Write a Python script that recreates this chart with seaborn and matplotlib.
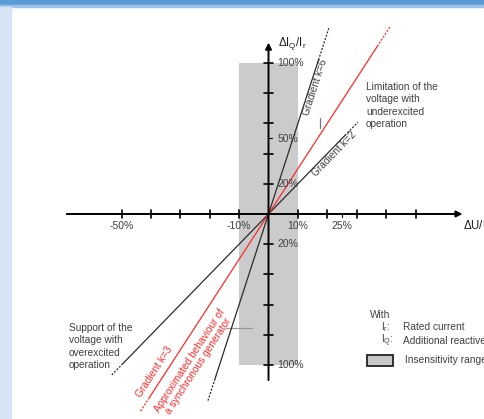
import seaborn as sns
import matplotlib.pyplot as plt
import matplotlib.patches as mpatches
import numpy as np
import pandas as pd

sns.set_theme(style="white")
plt.rcParams['font.family'] = ['Liberation Sans', 'DejaVu Sans']
plt.rcParams['mathtext.fontset'] = 'custom'
plt.rcParams['mathtext.rm'] = 'Liberation Sans'

# Данные: наклоны характеристик k (ΔIq/Ir = k * ΔU/Ur, в %)
gradients = [2, 3, 6]
line_colors = ['#2b2b2b', '#ff2a2a', '#2b2b2b']
# границы по ΔU (%): сплошная часть и пунктирное продолжение
solid_lo = [-49.5, -40.5, -18.3]
solid_hi = [26.0, 37.0, 17.0]
dash_lo = [-53.3, -43.5, -20.6]
dash_hi = [30.4, 41.5, 20.5]

x_ticks = [-50, -40, -30, -20, -10, 10, 20, 30, 40, 50]
x_minor = [25]
x_tick_labels = {-50: '-50%', -10: '-10%', 10: '10%', 25: '25%'}
y_ticks = [-100, -80, -60, -40, -20, 20, 40, 60, 80, 100]
y_minor = [50]
y_tick_labels = {100: '100%', 50: '50%', 20: '20%', -20: '20%', -100: '100%'}

band_u = [-10, 10]      # зона нечувствительности по ΔU
band_i = [-100, 100]    # по ΔIq

TXT = '#404040'
FS = 7.3

fig = plt.figure(figsize=(4.84, 4.19), dpi=100)
ax = fig.add_axes([0, 0, 1, 1])
# 1 % ΔU = 2.94 px, 1 % ΔI = 1.51 px, начало координат в (268.5, 214) px
ax.set_xlim(-268.5 / 2.94, (484 - 268.5) / 2.94)
ax.set_ylim(-(419 - 214) / 1.51, 214 / 1.51)
ax.axis('off')

# рамка страницы (синяя полоса сверху и слева)
ax.add_patch(mpatches.Rectangle((0, 1 - 5 / 419), 1, 5 / 419, transform=ax.transAxes,
                                color='#5b9bd5', clip_on=False, zorder=0))
ax.add_patch(mpatches.Rectangle((0, 1 - 7 / 419), 1, 2 / 419, transform=ax.transAxes,
                                color='#9dc3e6', clip_on=False, zorder=0))
ax.add_patch(mpatches.Rectangle((0, 0), 10.7 / 484, 1 - 7 / 419, transform=ax.transAxes,
                                color='#d6e4f3', clip_on=False, zorder=0))

# зона нечувствительности
ax.add_patch(mpatches.Rectangle((band_u[0], band_i[0]), band_u[1] - band_u[0],
                                band_i[1] - band_i[0], color='#cbcbcb', lw=0, zorder=1))

# характеристики
rows = []
for k, c, slo, shi, dlo, dhi in zip(gradients, line_colors, solid_lo, solid_hi, dash_lo, dash_hi):
    for seg, (a, b), style in [('s', (slo, shi), 'solid'),
                               ('dl', (dlo, slo), 'dash'),
                               ('dh', (shi, dhi), 'dash')]:
        for xv in (a, b):
            rows.append(dict(k=k, seg=f'{k}{seg}', style=style, color=c, u=xv, i=k * xv))
lines = pd.DataFrame(rows)

for seg, d in lines.groupby('seg'):
    ls = '-' if d['style'].iloc[0] == 'solid' else (0, (1.6, 1.2))
    sns.lineplot(data=d, x='u', y='i', color=d['color'].iloc[0], lw=0.9,
                 linestyle=ls, sort=False, estimator=None, ax=ax, zorder=3)

# оси со стрелками
arrow = dict(arrowstyle='-|>', color='black', lw=1.4, mutation_scale=9, shrinkA=0, shrinkB=0)
ax.annotate('', xy=(66.0, 0), xytext=(-68.6, 0), arrowprops=arrow, zorder=4)
ax.annotate('', xy=(0, 113.5), xytext=(0, -110), arrowprops=arrow, zorder=4)

for t in x_ticks:
    ax.plot([t, t], [-2.7, 2.7], color='black', lw=1.2, zorder=4)
for t in x_minor:
    ax.plot([t, t], [0, -2.3], color='black', lw=0.8, zorder=4)
for t in y_ticks:
    ax.plot([-1.7, 1.7], [t, t], color='black', lw=1.2, zorder=4)
for t in y_minor:
    ax.plot([0, 1.3], [t, t], color='black', lw=0.8, zorder=4)

for t, lab in x_tick_labels.items():
    ax.text(t, -8, lab, ha='center', va='center', fontsize=7.5, color=TXT)
for t, lab in y_tick_labels.items():
    ax.text(3.0, t, lab, ha='left', va='center', fontsize=7.5, color=TXT)

ax.text(3.2, 112.6, r'$\mathrm{\Delta I_Q/I_r}$', ha='left', va='center', fontsize=8.3, color='#1a1a1a')
ax.text(66.2, -8, r'$\mathrm{\Delta U/U_r}$', ha='left', va='center', fontsize=8.3, color='#1a1a1a')

# подписи наклонов
ax.text(16.0, 84.1, 'Gradient k=6', rotation=np.degrees(np.arctan(6)), transform_rotates_text=True,
        rotation_mode='anchor', ha='center', va='center', fontsize=FS, color=TXT)
ax.text(22.3, 39.6, 'Gradient k=2', rotation=np.degrees(np.arctan(2)), transform_rotates_text=True,
        rotation_mode='anchor', ha='center', va='center', fontsize=FS, color=TXT)
ax.text(-38.8, -104.3, 'Gradient k=3', rotation=np.degrees(np.arctan(3)), transform_rotates_text=True,
        rotation_mode='anchor', ha='center', va='center', fontsize=FS, color='#ff2a2a')
ax.text(-25.4, -98.9, 'Approximated behaviour of\na synchronous generator',
        rotation=np.degrees(np.arctan(3)), transform_rotates_text=True, rotation_mode='anchor',
        ha='center', va='center', multialignment='center', fontsize=FS, color='#ff2a2a',
        linespacing=1.1)

# мелкие отметки
ax.plot([17.5, 17.5], [57, 63.6], color='#777777', lw=0.9, zorder=3)
ax.plot([-14.5, -5.6], [-75.5, -75.5], color='#999999', lw=0.9, zorder=2)

ax.text(33.2, 87.4, 'Limitation of the\nvoltage with\nunderexcited\noperation', ha='left', va='top',
        fontsize=FS, color=TXT, linespacing=1.3)
ax.text(-67.9, -72.2, 'Support of the\nvoltage with\noverexcited\noperation', ha='left', va='top',
        fontsize=FS, color=TXT, linespacing=1.3)

# легенда
ax.text(34.5, -66.9, 'With', ha='left', va='center', fontsize=FS, color=TXT)
ax.text(38.3, -74.8, r'$\mathrm{I_r}$:', ha='left', va='center', fontsize=FS, color=TXT)
ax.text(45.7, -74.8, 'Rated current', ha='left', va='center', fontsize=FS, color=TXT)
ax.text(38.3, -84.1, r'$\mathrm{I_Q}$:', ha='left', va='center', fontsize=FS, color=TXT)
ax.text(45.7, -84.1, 'Additional reactive current', ha='left', va='center', fontsize=FS, color=TXT)
ax.add_patch(mpatches.Rectangle((33.5, -100.7), 8.8, 7.3, facecolor='#c8c8c8',
                                edgecolor='#222222', lw=1.3, zorder=3))
ax.text(46.4, -96.7, 'Insensitivity range', ha='left', va='center', fontsize=FS, color=TXT)

fig.savefig('out.png', dpi=100)
